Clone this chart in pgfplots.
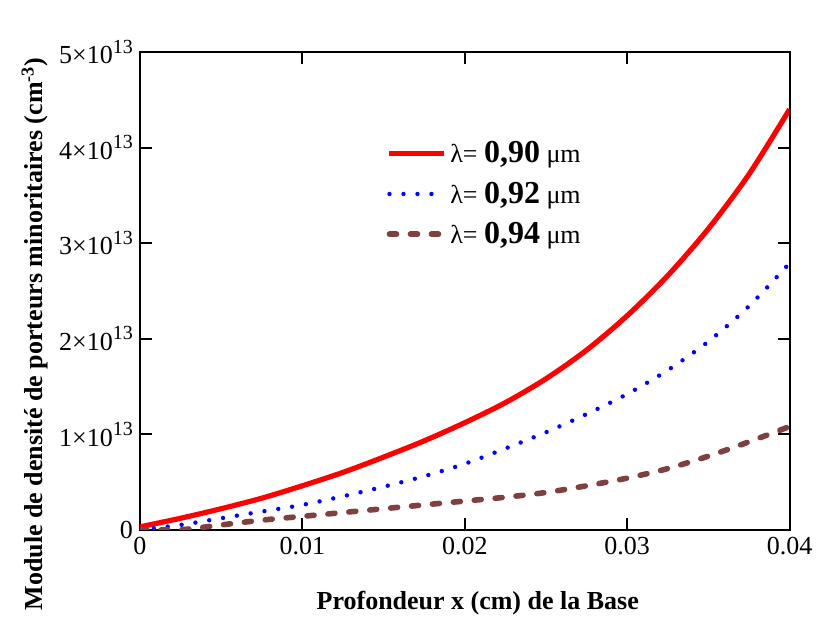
\documentclass[border=0pt]{standalone}
\usepackage{fontspec}
\setmainfont{Liberation Serif}
\usepackage{pgfplots}
\pgfplotsset{compat=1.18}
\definecolor{brun}{RGB}{128,64,64}
\newcommand{\expo}[1]{\raisebox{0.9ex}{\fontsize{10}{10}\selectfont #1}}

\pgfplotstableread{
x      y
0      0.03
0.0025 0.12
0.005  0.22
0.0075 0.33
0.01   0.46
0.0125 0.60
0.015  0.76
0.0175 0.93
0.02   1.12
0.0225 1.33
0.025  1.58
0.0275 1.88
0.03   2.24
0.0325 2.66
0.035  3.15
0.0375 3.72
0.04   4.40
}\lamA
\pgfplotstableread{
x      y
0      0.0
0.0025 0.05
0.005  0.12
0.0075 0.19
0.01   0.26
0.0125 0.35
0.015  0.45
0.0175 0.56
0.02   0.69
0.0225 0.85
0.025  1.02
0.0275 1.21
0.03   1.42
0.0325 1.67
0.035  1.97
0.0375 2.34
0.04   2.79
}\lamB
\pgfplotstableread{
x      y
0      0.0
0.0025 0.0
0.005  0.05
0.0075 0.10
0.01   0.14
0.0125 0.18
0.015  0.22
0.0175 0.26
0.02   0.30
0.0225 0.34
0.025  0.39
0.0275 0.46
0.03   0.54
0.0325 0.64
0.035  0.77
0.0375 0.92
0.04   1.08
}\lamC

\begin{document}
\begin{tikzpicture}
\path (-70pt,-48pt) rectangle (339.5pt,265pt);
\begin{axis}[
    scale only axis,
    width=325pt, height=239pt,
    xmin=0, xmax=0.04,
    ymin=0, ymax=5,
    scaled x ticks=false,
    xtick={0,0.01,0.02,0.03,0.04},
    xticklabels={0,0.01,0.02,0.03,0.04},
    ytick={0,1,2,3,4,5},
    yticklabels={0,1×10\expo{13},2×10\expo{13},3×10\expo{13},4×10\expo{13},5×10\expo{13}},
    tick align=inside,
    major tick length=6pt,
    axis line style={line width=1pt},
    every tick/.style={black, line width=1pt},
    tick label style={font=\fontsize{13}{15}\selectfont},
    xlabel={\textbf{Profondeur x (cm) de la Base}},
    ylabel={\textbf{Module de densité de porteurs minoritaires (cm\textsuperscript{-3})}},
    xlabel style={font=\fontsize{13}{15}\selectfont, at={(axis description cs:0.52,-0.153)}, anchor=center},
    ylabel style={font=\fontsize{13}{15}\selectfont, at={(axis description cs:-0.162,0.41)}, anchor=center, rotate=0},
    legend style={draw=none, fill=none, at={(rel axis cs:0.37,0.83)}, anchor=north west,
        row sep=4pt, font=\fontsize{13}{15}\selectfont},
    legend cell align=left,
    legend image code/.code={\draw[#1] (0cm,0cm) -- (0.95cm,0cm);},
]
\addplot[red, line width=2.6pt, smooth] table[x=x,y=y] {\lamA};
\addlegendentry{λ= {\fontsize{16}{18}\selectfont\bfseries 0,90} μm}
\addplot[blue, line width=2.2pt, line cap=round, dash pattern=on 0pt off 7pt, smooth] table[x=x,y=y] {\lamB};
\addlegendentry{λ= {\fontsize{16}{18}\selectfont\bfseries 0,92} μm}
\addplot[brun, line width=2.8pt, line cap=round, dash pattern=on 3.5pt off 7pt, smooth] table[x=x,y=y] {\lamC};
\addlegendentry{λ= {\fontsize{16}{18}\selectfont\bfseries 0,94} μm}
\end{axis}
\end{tikzpicture}
\end{document}
